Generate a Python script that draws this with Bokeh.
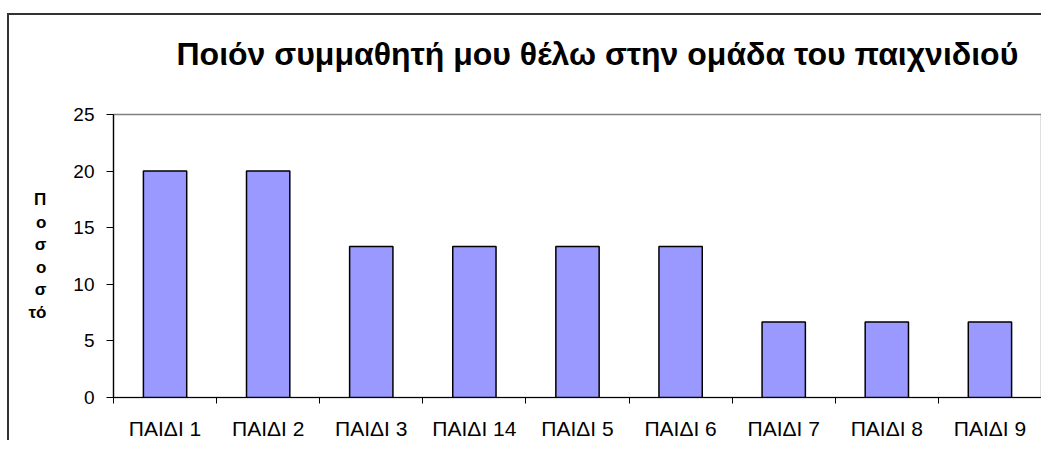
from bokeh.plotting import figure
from bokeh.models import FixedTicker, ColumnDataSource, Range1d, LinearAxis, Title
from bokeh.embed import file_html
from bokeh.resources import INLINE

categories = ["ΠΑΙΔΙ 1", "ΠΑΙΔΙ 2", "ΠΑΙΔΙ 3", "ΠΑΙΔΙ 14", "ΠΑΙΔΙ 5",
              "ΠΑΙΔΙ 6", "ΠΑΙΔΙ 7", "ΠΑΙΔΙ 8", "ΠΑΙΔΙ 9"]
values = [20, 20, 13.33, 13.33, 13.33, 13.33, 6.67, 6.67, 6.67]
y_ticks = [0, 5, 10, 15, 20, 25]
title_text = "Ποιόν συμμαθητή μου θέλω στην ομάδα του παιχνιδιού"
ylabel_parts = ["Π", "ο", "σ", "ο", "σ", "τό"]

FONT = "Liberation Sans"
n = len(categories)
xpos = list(range(n))

p = figure(width=1034, height=427, output_backend="svg", toolbar_location=None,
           x_range=Range1d(-0.5, n - 0.5), y_range=Range1d(0, 25),
           min_border_left=104, min_border_right=2, min_border_top=99,
           min_border_bottom=42)
p.styles = {"border-left": "2px solid #333333", "border-top": "2px solid #333333",
            "margin-top": "13px", "margin-left": "7px"}
p.background_fill_color = "white"
p.border_fill_color = "white"
p.outline_line_color = "#808080"
p.outline_line_width = 1.5
p.grid.visible = False

# empty spacer between the title and the plot area
spacer = LinearAxis(ticker=FixedTicker(ticks=[0]), major_label_overrides={0: ""},
                    major_label_text_font_size="0px", major_label_standoff=0,
                    major_tick_out=21, major_tick_in=0,
                    axis_line_color=None, major_tick_line_color=None,
                    minor_tick_line_color=None)
p.add_layout(spacer, "above")

title = Title(text=title_text, align="left", vertical_align="top", offset=63,
              standoff=40, text_font=FONT, text_font_size="32px",
              text_font_style="bold", text_color="black")
p.add_layout(title, "above")

src = ColumnDataSource(dict(x=xpos, top=values))
p.vbar(x="x", top="top", width=0.42, bottom=0, source=src,
       fill_color="#9999FF", line_color="black", line_width=1.5)

# x axis: labels at centers, tick marks between categories
xax = p.below[0]
xax.ticker = FixedTicker(ticks=xpos, minor_ticks=[i - 0.5 for i in range(n + 1)])
xax.major_label_overrides = {i: c for i, c in zip(xpos, categories)}
xax.major_tick_out = 0
xax.major_tick_in = 0
xax.minor_tick_out = 6
xax.minor_tick_in = 0
xax.minor_tick_line_color = "black"
xax.axis_line_color = "black"
xax.axis_line_width = 1.2
xax.major_label_text_font = FONT
xax.major_label_text_font_size = "21px"
xax.major_label_text_color = "black"
xax.major_label_standoff = 13

p.yaxis.ticker = FixedTicker(ticks=y_ticks)
p.yaxis.minor_tick_line_color = None
p.yaxis.major_tick_out = 7
p.yaxis.major_tick_in = 0
p.yaxis.major_tick_line_color = "black"
p.yaxis.axis_line_color = "black"
p.yaxis.axis_line_width = 1.2
p.yaxis.major_label_text_font = FONT
p.yaxis.major_label_text_font_size = "19px"
p.yaxis.major_label_text_color = "black"
p.yaxis.major_label_standoff = 12

# vertical stacked y axis label
p.yaxis.axis_label = "\n".join(ylabel_parts)
p.yaxis.axis_label_orientation = "horizontal"
p.yaxis.axis_label_text_font = FONT
p.yaxis.axis_label_text_font_size = "17px"
p.yaxis.axis_label_text_font_style = "bold"
p.yaxis.axis_label_text_color = "black"
p.yaxis.axis_label_text_line_height = 1.18
p.yaxis.axis_label_standoff = 24

open("out.html", "w").write(file_html(p, INLINE))
